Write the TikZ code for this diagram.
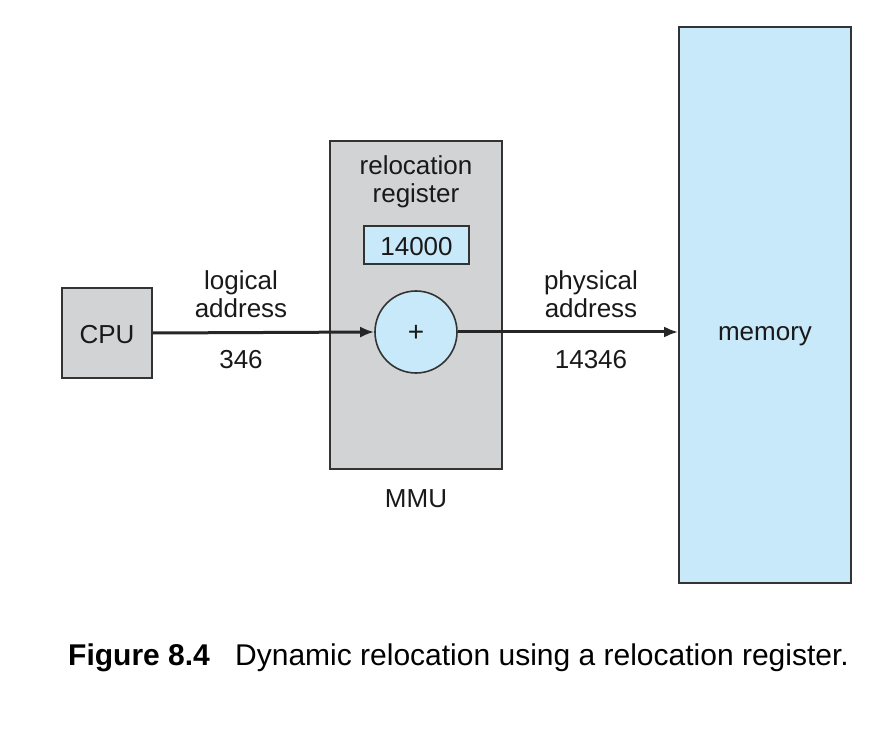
\documentclass[tikz,border=0pt]{standalone}
\usepackage{fontspec}
\setmainfont{Liberation Sans}
\usetikzlibrary{arrows.meta}
\definecolor{boxgray}{HTML}{D1D3D4}
\definecolor{memblue}{HTML}{C7E9F9}
\definecolor{edge}{HTML}{333333}
\begin{document}
\begin{tikzpicture}[x=1pt,y=-1pt,
  block/.style={draw=edge,line width=1.6pt,inner sep=0pt},
  lbl/.style={inner sep=0pt,align=center,font=\fontsize{26}{28.5}\selectfont,text=black!90},
  flow/.style={line width=3pt,draw=black!85,-{Latex[length=14pt,width=11pt]}}]
\useasboundingbox (0,0) rectangle (889,751);
% components
\node[block,fill=boxgray,minimum width=90pt,minimum height=90pt] (cpu) at (107,333) {};
\node[block,fill=boxgray,minimum width=172pt,minimum height=328pt] (mmu) at (416,305) {};
\node[block,fill=memblue,minimum width=105pt,minimum height=38pt] (reg) at (416.5,245) {};
\node[block,fill=memblue,circle,minimum size=82pt] (add) at (416,332) {};
\node[block,fill=memblue,minimum width=172pt,minimum height=556pt] (mem) at (765,305) {};
% texts
\node[lbl] (cputxt) at (107,335) {CPU};
\node[lbl] (regname) at (416,182) {relocation\\register};
\node[lbl] (regval) at (416.5,247) {14000};
\node[lbl,font=\fontsize{28}{30}\selectfont] (plus) at (416,333) {+};
\node[lbl] (mmutxt) at (416,499) {MMU};
\node[lbl] (memtxt) at (765,336) {memory};
\node[lbl] (laddr) at (241,294) {logical\\address};
\node[lbl] (lval) at (241,360) {346};
\node[lbl] (paddr) at (591,294) {physical\\address};
\node[lbl] (pval) at (591,360) {14346};
% connectors
\draw[flow] (cpu.east) -- (add.west);
\draw[flow] (add.east) -- (mem.west |- add.east);
% caption
\node[inner sep=0pt,anchor=base west,font=\fontsize{30}{33}\selectfont\bfseries] (capnum) at (68,665) {Figure 8.4};
\node[inner sep=0pt,anchor=base west,font=\fontsize{30}{33}\selectfont] (captxt) at (235,665) {Dynamic relocation using a relocation register.};
\end{tikzpicture}
\end{document}
